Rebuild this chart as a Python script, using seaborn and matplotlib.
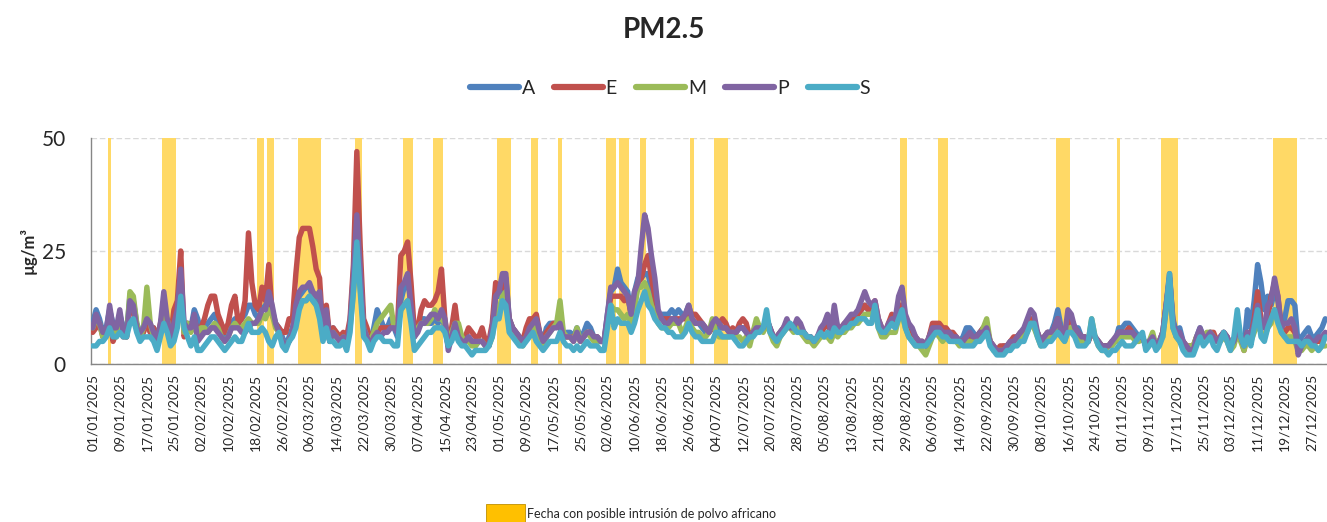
import numpy as np
import pandas as pd
import matplotlib
matplotlib.use('Agg')
import matplotlib.pyplot as plt
from matplotlib.patches import Patch
from matplotlib.lines import Line2D
import seaborn as sns

# Daily PM2.5 (ug/m3) per station, 2025, one line per month
dates = pd.date_range('2025-01-01', '2025-12-31', freq='D')

a_vals = [
    9,12,10,7,8,12,9,7,11,8,7,15,14,9,7,8,10,7,8,5,8,13,9,6,8,11,16,8,9,8,12,
    10,7,8,9,10,11,9,8,6,7,9,10,9,10,11,13,13,11,10,12,13,14,12,9,8,6,4,6,
    8,12,15,16,17,17,15,14,14,7,11,5,8,6,5,6,4,9,18,30,19,9,7,5,8,12,10,8,8,10,8,
    6,14,17,19,13,6,8,10,10,9,9,10,9,11,8,4,6,8,6,5,5,6,5,4,5,5,4,4,8,15,
    15,18,19,10,8,7,6,5,6,8,8,9,7,5,8,9,9,9,8,6,7,7,6,8,6,7,9,8,6,6,5,
    5,11,16,17,21,18,17,16,11,16,19,19,20,20,16,13,11,11,11,11,12,11,12,11,11,13,10,9,9,8,
    7,7,8,9,8,8,8,7,7,7,8,8,7,6,7,8,8,8,10,8,6,6,7,8,9,8,8,9,8,7,6,
    6,5,6,7,8,9,7,11,8,8,8,9,10,10,11,12,13,12,12,13,9,8,7,8,9,8,12,13,10,8,7,
    6,5,5,4,6,8,8,8,7,7,7,6,6,5,6,8,8,7,6,7,8,8,5,4,3,3,4,4,5,5,
    6,7,7,8,10,9,7,5,6,7,7,9,12,8,6,10,10,8,8,6,6,5,7,6,5,4,4,4,5,5,8,
    8,9,9,8,7,6,6,4,5,6,4,5,7,13,19,10,7,8,5,4,3,3,6,8,6,6,7,6,5,6,
    7,6,4,5,8,6,4,12,8,14,22,18,12,15,13,16,14,8,10,14,14,13,4,6,7,8,6,6,7,8,10,
]
e_vals = [
    7,8,9,6,7,11,5,7,10,6,6,13,12,8,6,7,9,7,8,5,9,12,8,6,12,14,25,6,9,8,10,
    7,8,10,13,15,15,11,9,7,9,13,15,9,10,14,29,18,13,12,17,14,22,11,9,8,7,7,10,
    10,20,28,30,30,30,26,21,19,7,13,6,8,7,6,7,6,10,22,47,26,10,8,5,7,7,8,8,8,8,9,
    8,24,25,27,18,7,8,12,14,13,13,14,16,21,10,5,8,13,7,6,6,8,7,6,6,8,5,5,9,18,
    17,18,16,10,8,7,6,5,8,10,10,11,7,5,7,8,9,9,8,6,6,6,6,7,5,6,7,7,6,6,5,
    5,10,15,15,15,15,14,15,11,15,18,19,22,24,19,15,11,10,10,10,10,10,10,10,10,12,11,11,10,9,
    8,7,8,9,9,10,9,7,8,7,9,10,9,6,7,9,8,8,10,8,6,6,7,8,9,8,8,9,8,7,6,
    6,5,6,7,8,9,7,10,8,8,9,9,10,10,11,12,13,12,13,14,10,8,7,9,11,9,13,13,10,8,7,
    6,5,5,4,6,9,9,9,8,8,7,7,6,5,5,6,6,6,6,7,8,8,5,4,3,4,4,4,5,6,
    6,7,7,8,10,8,7,5,6,7,6,8,10,7,6,9,10,8,7,6,6,5,7,6,5,4,4,4,5,5,7,
    7,7,8,7,6,6,6,4,5,6,4,5,7,13,19,9,6,6,5,4,4,4,6,7,6,6,7,7,5,6,
    7,6,4,5,8,6,3,7,6,10,16,10,8,10,15,18,15,8,7,8,8,7,3,4,5,5,4,5,5,5,6,
]
m_vals = [
    8,10,9,6,7,10,8,6,9,7,6,16,15,9,6,8,17,9,6,5,8,11,10,6,8,10,14,7,9,7,9,
    7,8,8,7,8,9,8,6,5,6,8,9,8,8,9,10,9,9,9,11,10,12,11,8,7,5,4,5,
    7,10,13,14,14,15,14,13,12,6,10,5,7,6,5,6,4,8,16,24,17,8,6,5,7,9,10,11,12,13,8,
    8,12,13,14,11,6,8,9,9,9,10,12,10,10,9,4,7,9,9,6,5,5,4,4,5,5,4,4,6,12,
    12,15,16,8,7,6,5,4,6,7,8,8,5,4,6,7,8,9,14,7,6,6,5,8,5,6,7,6,5,5,5,
    5,9,13,12,12,11,10,11,9,12,17,17,18,16,13,11,9,8,8,8,9,9,9,7,8,10,8,7,7,6,
    6,7,10,7,6,6,6,6,7,6,6,5,6,4,7,10,8,7,9,7,5,4,6,7,8,8,7,8,7,6,5,
    5,4,5,6,6,6,5,7,6,7,7,8,8,9,9,10,11,11,11,12,8,6,6,7,7,7,10,11,8,6,5,
    4,4,3,2,4,6,7,6,5,6,6,5,5,4,5,5,5,5,5,6,8,10,5,3,3,3,3,3,4,5,
    5,6,6,7,9,8,6,4,5,6,6,7,8,6,5,8,8,7,6,5,5,5,10,6,4,3,3,4,4,5,6,
    6,6,6,6,5,5,6,4,5,7,4,5,6,12,19,8,6,5,4,3,4,4,6,7,6,7,7,6,5,5,
    6,5,3,4,7,5,3,6,5,7,9,7,6,8,9,12,11,7,6,6,6,5,3,3,4,4,3,4,3,4,4,
]
p_vals = [
    8,11,9,7,7,13,8,8,12,7,6,14,13,8,7,8,10,9,7,5,9,16,10,6,9,12,21,9,8,8,11,
    5,6,7,7,8,8,7,6,5,6,8,8,8,7,7,8,9,9,10,12,12,16,13,9,7,5,4,5,
    7,13,16,17,17,18,16,15,16,7,12,5,7,6,5,6,4,9,20,33,21,8,6,4,6,7,6,7,7,8,8,
    7,17,18,20,13,6,7,9,9,10,11,11,10,12,10,3,6,9,6,5,5,6,5,5,5,5,4,4,8,15,
    16,20,20,10,8,7,6,5,6,8,9,10,7,5,6,7,8,8,9,6,6,6,5,7,5,6,7,7,6,6,5,
    5,11,17,17,18,17,16,15,11,16,18,26,33,30,24,19,12,10,9,9,10,10,9,10,11,13,10,9,9,9,
    8,7,9,10,9,8,8,7,7,7,8,8,7,6,7,8,8,8,10,8,6,6,7,8,10,8,8,10,9,7,6,
    6,5,6,8,9,11,7,13,8,8,9,10,11,11,12,14,16,14,13,14,10,8,7,9,10,10,15,17,11,9,8,
    6,5,5,4,6,8,8,8,7,7,7,6,6,5,5,6,7,6,6,7,7,8,5,4,3,3,3,4,5,5,
    6,7,8,10,12,11,7,5,6,7,7,8,10,7,6,12,11,8,7,6,6,5,8,6,5,4,4,4,5,6,7,
    7,7,7,7,6,6,6,4,5,6,4,5,7,13,20,9,7,7,5,4,3,3,6,8,6,6,7,6,5,6,
    7,6,4,5,8,6,4,7,6,9,13,9,8,13,14,19,15,8,9,9,10,8,2,4,5,6,5,5,6,6,7,
]
s_vals = [
    4,4,5,5,6,8,6,6,7,6,6,9,10,7,5,6,6,6,5,3,6,9,7,4,5,8,15,8,6,4,6,
    3,3,4,5,6,6,5,4,3,4,5,6,5,5,7,9,7,7,7,8,7,5,4,6,7,4,3,5,
    6,8,12,14,14,15,14,13,10,5,8,5,5,4,4,5,3,7,16,27,16,6,5,3,5,6,6,5,5,5,4,
    4,12,13,14,9,3,4,5,6,7,7,8,8,8,7,4,5,7,5,4,4,3,2,3,3,3,3,4,6,10,
    10,14,13,7,6,5,4,4,5,6,7,5,4,3,4,5,5,5,7,5,4,4,3,4,3,4,5,4,4,4,3,
    3,8,13,8,10,9,9,9,7,9,12,14,16,13,12,10,9,8,8,7,7,6,6,6,7,9,7,6,6,5,
    5,5,5,7,7,6,6,6,6,5,4,4,5,6,6,7,7,8,12,7,6,5,6,7,8,9,8,7,7,7,6,
    6,5,6,7,6,7,6,8,7,7,8,8,9,9,10,10,10,9,9,13,8,7,7,8,9,8,10,12,8,6,5,
    4,4,4,4,5,6,7,7,6,6,5,5,5,5,4,4,4,4,5,5,6,7,4,3,2,2,2,3,3,4,
    4,5,5,7,9,9,6,4,4,5,5,6,7,6,5,7,7,6,4,4,4,5,10,6,4,3,3,2,3,3,4,
    5,4,4,4,5,6,7,3,4,5,3,4,6,12,20,8,6,5,3,2,2,2,4,6,4,5,6,4,3,5,
    7,5,3,6,12,6,4,6,4,8,12,6,5,8,10,12,9,7,6,5,5,5,5,4,5,5,4,4,3,4,6,
]

# days (0 = 01/01/2025) flagged as possible African dust intrusion
dust_days = [5, 21, 22, 23, 24, 49, 50, 52, 53, 61, 62, 63, 64, 65, 66, 67,
             78, 79, 92, 93, 94, 101, 102, 103, 120, 121, 122, 123, 130, 131,
             138, 152, 153, 154, 156, 157, 158, 162, 163, 177, 184, 185, 186,
             187, 239, 240, 250, 251, 252, 285, 286, 287, 288, 303,
             316, 317, 318, 319, 320, 349, 350, 351, 352, 353, 354, 355]

stations = ['A', 'E', 'M', 'P', 'S']
colors = ['#4F81BD', '#C0504D', '#9BBB59', '#8064A2', '#4BACC6']

for v in (a_vals, e_vals, m_vals, p_vals, s_vals):
    assert len(v) == len(dates), len(v)

df = pd.DataFrame({'day': np.arange(len(dates)), 'A': a_vals, 'E': e_vals,
                   'M': m_vals, 'P': p_vals, 'S': s_vals})
long_df = df.melt(id_vars='day', var_name='station', value_name='pm25')

sns.set_style('white')
plt.rcParams['font.family'] = ['Lato', 'DejaVu Sans']

fig = plt.figure(figsize=(13.27, 5.22), dpi=100)
ax = fig.add_axes([91 / 1327, 158 / 522, 1236 / 1327, 226 / 522])

# dust intrusion bands
ax.bar(dust_days, 50, width=1.0, color='#FFD966', linewidth=0, zorder=1)

sns.lineplot(data=long_df, x='day', y='pm25', hue='station', hue_order=stations,
             palette=colors, linewidth=3.9, errorbar=None, legend=False,
             ax=ax, zorder=3)
for ln in ax.lines:
    ln.set_solid_joinstyle('round')
    ln.set_solid_capstyle('round')

ax.set_xlim(-0.5, len(dates) - 0.5)
ax.set_ylim(0, 50)
ax.set_yticks([0, 25, 50])
ax.set_xticks(np.arange(0, len(dates), 8))
ax.set_xticklabels(dates[::8].strftime('%d/%m/%Y'), rotation=90)
ax.set_xticks(np.arange(len(dates)), minor=True)
ax.tick_params(axis='x', which='both', direction='out', length=5, width=0.8,
               color='#868686', labelsize=10, pad=2)
ax.tick_params(axis='y', direction='out', length=4, width=0.8,
               color='#868686', labelsize=15, pad=14)

ax.yaxis.grid(True, color='#D9D9D9', linestyle=(0, (4, 2)), linewidth=1, zorder=0)
ax.set_axisbelow(True)
for side in ['top', 'right']:
    ax.spines[side].set_visible(False)
for side in ['left', 'bottom']:
    ax.spines[side].set_color('#868686')
    ax.spines[side].set_linewidth(1)

ax.set_xlabel('')
ax.set_ylabel('µg/m³', fontsize=12, fontweight='bold')
ax.yaxis.set_label_coords(-0.044, 0.5)

fig.suptitle('PM2.5', fontsize=20, fontweight='bold', y=1 - 30 / 522, va='center')

handles = [Line2D([0], [0], color=c, lw=4.5) for c in colors]
fig.legend(handles, stations, loc='center', bbox_to_anchor=(0.505, 1 - 88 / 522),
           ncol=5, frameon=False, fontsize=14, handlelength=2.5,
           handletextpad=0.15, columnspacing=1.0)

fig.legend([Patch(facecolor='#FFC000', edgecolor='#BF9000', linewidth=0.6)],
           ['Fecha con posible intrusión de polvo africano'],
           loc='lower left', bbox_to_anchor=(486 / 1327, -0.005), frameon=False,
           fontsize=9, handlelength=3.1, handleheight=2.1, handletextpad=0.15,
           borderpad=0, borderaxespad=0)

fig.savefig('out.png', dpi=100)
